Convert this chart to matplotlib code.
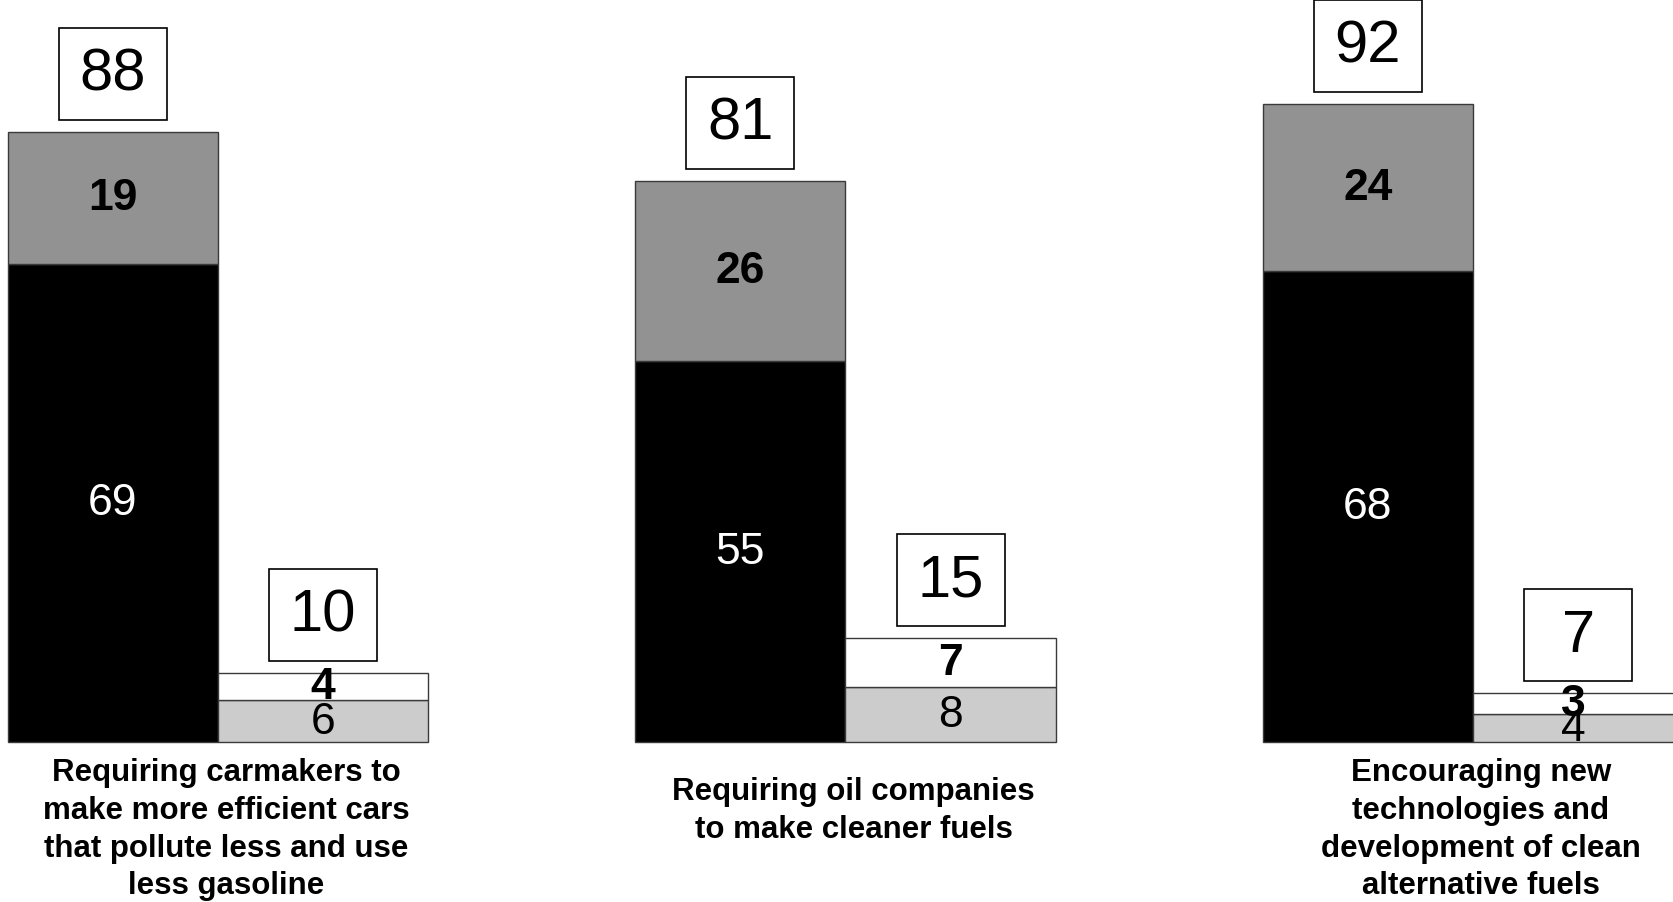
import numpy as np
import matplotlib.pyplot as plt
from matplotlib.patches import Rectangle

plt.rcParams['font.family'] = ['Liberation Sans', 'DejaVu Sans']

categories = [
    'Requiring carmakers to\nmake more efficient cars\nthat pollute less and use\nless gasoline',
    'Requiring oil companies\nto make cleaner fuels',
    'Encouraging new\ntechnologies and\ndevelopment of clean\nalternative fuels',
]
strongly_favor = [69, 55, 68]
somewhat_favor = [19, 26, 24]
somewhat_oppose = [6, 8, 4]
strongly_oppose = [4, 7, 3]
total_favor = [88, 81, 92]
total_oppose = [10, 15, 7]

EDGE = '#3a3a3a'
W = 0.335            # bar width (group spacing = 1)
PX_X = 627.5         # pixels per x unit
PX_Y = 6.93          # pixels per percentage point


def main() -> None:
    fig = plt.figure(figsize=(16.74, 9.03), dpi=100)
    ax = fig.add_axes([0, 0, 1, 1])
    ax.set_xlim(-218 / PX_X, (1674 - 218) / PX_X)
    ax.set_ylim(-160 / PX_Y, 743 / PX_Y)
    ax.axis('off')

    x = np.arange(len(categories))
    xf, xo = x - W / 2, x + W / 2

    b1 = ax.bar(xf, strongly_favor, W, color='black', edgecolor=EDGE, linewidth=1)
    b2 = ax.bar(xf, somewhat_favor, W, bottom=strongly_favor, color='#929292',
                edgecolor=EDGE, linewidth=1)
    b3 = ax.bar(xo, somewhat_oppose, W, color='#cccccc', edgecolor=EDGE, linewidth=1)
    b4 = ax.bar(xo, strongly_oppose, W, bottom=somewhat_oppose, color='white',
                edgecolor=EDGE, linewidth=1)

    ax.bar_label(b1, label_type='center', color='white', fontsize=32)
    ax.bar_label(b2, label_type='center', color='black', fontsize=32, fontweight='bold')
    ax.bar_label(b3, label_type='center', color='black', fontsize=32)
    ax.bar_label(b4, label_type='center', color='black', fontsize=32, fontweight='bold')

    # total boxes above each bar
    bw, bh, gap = 108 / PX_X, 92 / PX_Y, 12 / PX_Y
    for xs, totals in ((xf, total_favor), (xo, total_oppose)):
        for xc, t in zip(xs, totals):
            ax.add_patch(Rectangle((xc - bw / 2, t + gap), bw, bh, facecolor='white',
                                   edgecolor='black', linewidth=1.2, zorder=3))
            ax.text(xc, t + gap + bh / 2, str(t), ha='center', va='center',
                    fontsize=43, zorder=4)

    for xc, label in zip(x, categories):
        n = label.count('\n') + 1
        top_px = 15 + 9.5 * (4 - n)
        ax.text(xc + 8 / PX_X, -top_px / PX_Y, label, ha='center', va='top',
                fontsize=22.5, fontweight='bold', linespacing=1.34)

    fig.savefig('out.png', dpi=100)
    plt.close(fig)


if __name__ == '__main__':
    main()
